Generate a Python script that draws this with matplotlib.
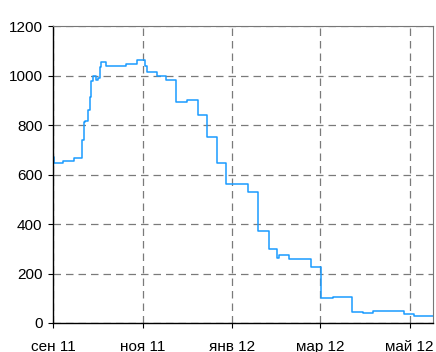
import matplotlib
matplotlib.use("Agg")
import matplotlib.pyplot as plt
import pandas as pd

# ступенчатый ряд: дата изменения и новое значение
dates = ["2011-09-01", "2011-09-02", "2011-09-08", "2011-09-15", "2011-09-21",
         "2011-09-22", "2011-09-23", "2011-09-25", "2011-09-26", "2011-09-27",
         "2011-09-28", "2011-09-30", "2011-10-02", "2011-10-03", "2011-10-04",
         "2011-10-07", "2011-10-21", "2011-10-28", "2011-11-03", "2011-11-04",
         "2011-11-11", "2011-11-17", "2011-11-24", "2011-12-01", "2011-12-09",
         "2011-12-15", "2011-12-22", "2011-12-28", "2012-01-12", "2012-01-19",
         "2012-01-26", "2012-02-01", "2012-02-02", "2012-02-09", "2012-02-24",
         "2012-03-02", "2012-03-10", "2012-03-23", "2012-03-30", "2012-04-06",
         "2012-04-27", "2012-05-04", "2012-05-17"]
values = [671, 646, 655, 667, 739,
          812, 816, 861, 913, 978,
          998, 982, 990, 1034, 1054,
          1038, 1046, 1062, 1040, 1015,
          1000, 982, 894, 901, 840,
          753, 646, 561, 529, 372,
          299, 263, 275, 259, 226,
          101, 105, 46, 42, 48,
          36, 30, 30]

tick_dates = ["2011-09-01", "2011-11-01", "2012-01-01", "2012-03-01", "2012-05-01"]
tick_labels = ["сен 11", "ноя 11", "янв 12", "мар 12", "май 12"]
y_ticks = [0, 200, 400, 600, 800, 1000, 1200]

plt.rcParams["font.family"] = ["Liberation Sans", "DejaVu Sans"]

x = pd.to_datetime(dates)
fig = plt.figure(figsize=(4.36, 3.52), dpi=100)
ax = fig.add_axes([0.1216, 0.0824, 0.8715, 0.8436])

ax.plot(x, values, drawstyle="steps-post", color="#1a9bff", lw=1.1)

ax.set_xlim(x[0], x[-1])
ax.set_ylim(0, 1200)
ax.set_yticks(y_ticks)
ax.set_xticks(pd.to_datetime(tick_dates))
ax.set_xticklabels(tick_labels)

ax.grid(True, color="#7a7a7a", lw=0.9, linestyle=(0, (6, 4)))
ax.set_axisbelow(True)

for s in ("top", "right"):
    ax.spines[s].set_color("#777777")
    ax.spines[s].set_linewidth(0.8)
for s in ("left", "bottom"):
    ax.spines[s].set_color("black")
    ax.spines[s].set_linewidth(1.0)

ax.tick_params(axis="y", direction="out", length=3.5, width=0.8, pad=4, labelsize=11)
ax.tick_params(axis="x", direction="out", length=3.5, width=0.8, pad=8.5, labelsize=11)

fig.savefig("out.png", dpi=100)
